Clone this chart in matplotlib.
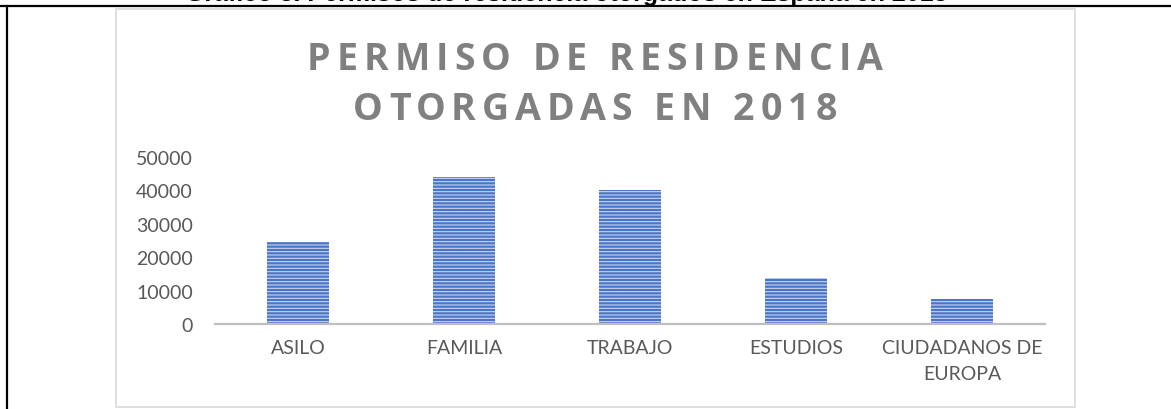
import matplotlib.pyplot as plt
from matplotlib.patches import Rectangle
from matplotlib.lines import Line2D

categorias = ['ASILO', 'FAMILIA', 'TRABAJO', 'ESTUDIOS', 'CIUDADANOS DE\nEUROPA']
permisos = [24500, 43900, 40200, 13800, 7500]
yticks = [0, 10000, 20000, 30000, 40000, 50000]
titulo = ['PERMISO DE RESIDENCIA', 'OTORGADAS EN 2018']

W, H = 1171, 410
fig = plt.figure(figsize=(W / 100, H / 100), dpi=100)
renderer = fig.canvas.get_renderer()

# marco del documento (borde negro de la tabla)
fig.add_artist(Line2D([0, 1], [1 - 7 / H, 1 - 7 / H], color='black', lw=1.6,
                      transform=fig.transFigure))
fig.add_artist(Line2D([7 / W, 7 / W], [0, 1 - 7 / H], color='black', lw=1.6,
                      transform=fig.transFigure))

# texto del encabezado cortado arriba
fig.text(185 / W, 1 - 1.5 / H, 'Gráfico 3. Permisos de residencia otorgados en España en 2018',
         ha='left', va='baseline', fontsize=18, fontweight='bold',
         family='Liberation Sans', color='black')

# borde del area del grafico
fig.add_artist(Rectangle((116 / W, 1 - 408 / H), (1075 - 116) / W, (408 - 10) / H,
                         transform=fig.transFigure, fill=False,
                         edgecolor='#d9d9d9', lw=1.2))

ax = fig.add_axes([215 / W, 1 - 325 / H, 830 / W, (325 - 158) / H])
plt.rcParams['hatch.color'] = '#c9d6f0'
plt.rcParams['hatch.linewidth'] = 0.8
x = range(len(categorias))
ax.bar(x, permisos, width=0.373, color='#4a75c8', hatch='-----',
       edgecolor='#c9d6f0', linewidth=0)
ax.set_xlim(-0.5, len(categorias) - 0.5)
ax.set_ylim(0, 50000)
ax.set_yticks(yticks)
ax.set_yticklabels([str(v) for v in yticks])
ax.set_xticks(list(x))
ax.set_xticklabels(categorias, linespacing=1.65)

for s in ['top', 'right', 'left']:
    ax.spines[s].set_visible(False)
ax.spines['bottom'].set_color('#bfbfbf')
ax.spines['bottom'].set_linewidth(1.6)
ax.tick_params(length=0, colors='#595959', labelsize=14)
ax.tick_params(axis='y', pad=16)
ax.tick_params(axis='x', pad=11)
for lab in ax.get_xticklabels() + ax.get_yticklabels():
    lab.set_family('Lato')
    lab.set_color('#595959')
for lab in ax.get_xticklabels():
    lab.set_verticalalignment('top')


# titulo con espaciado entre letras, como en Excel
def ancho(s):
    t = fig.text(0, 0, s, fontsize=27, fontweight='bold', family='Open Sans')
    w = t.get_window_extent(renderer).width
    t.remove()
    return w


track = 6.0
for linea, yc in zip(titulo, [55, 105]):
    total = ancho(linea) + track * (len(linea) - 1)
    x0 = 595 - total / 2
    for i, ch in enumerate(linea):
        xi = x0 + ancho(linea[:i] + '|') - ancho('|') + track * i if i else x0
        fig.text(xi / W, 1 - yc / H, ch, ha='left', va='center_baseline',
                 fontsize=27, fontweight='bold', family='Open Sans',
                 color='#808080')

fig.savefig('out.png', dpi=100)
